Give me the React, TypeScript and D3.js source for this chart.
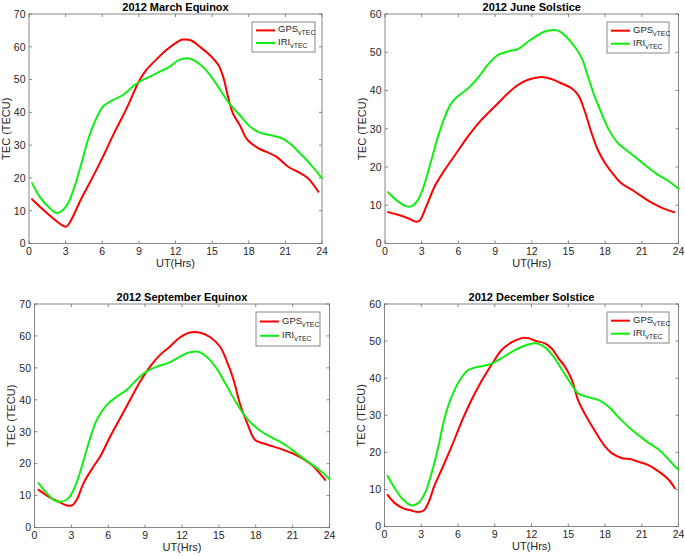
import React, { useRef, useEffect } from 'react';
import * as d3 from 'd3';

const xTicks = [0, 3, 6, 9, 12, 15, 18, 21, 24];
const titles = ['2012 March Equinox', '2012 June Solstice', '2012 September Equinox', '2012 December Solstice'];
const yMaxes = [70, 60, 70, 60];
const seriesNames = ['GPS', 'IRI'];

// [UT hour, TEC]
const marchGps: [number, number][] = [
  [0.25, 13.5], [0.87, 11.3], [1.97, 7.7], [2.7, 5.6], [3.05, 5.1], [3.4, 6.8], [4.3, 13.8], [5.1, 19.4],
  [6.06, 26.5], [7.0, 33.9], [7.97, 41], [9.06, 49.9], [9.6, 52.9], [10.4, 56], [11.25, 59],
  [12.07, 61.3], [12.6, 62.2], [13.3, 61.9], [14.0, 60], [14.8, 57.5], [15.5, 54.5], [15.9, 50.9], [16.3, 44.8],
  [16.7, 39.7], [17.25, 36.2], [17.9, 31.6], [18.76, 29.1], [19.4, 28.0], [20.26, 26.5], [21.2, 23.5],
  [22.0, 21.9], [22.85, 19.9], [23.7, 15.8],
];
const marchIri: [number, number][] = [
  [0.25, 18.4], [0.87, 14.3], [1.7, 10.8], [2.3, 9.3], [2.8, 10.3], [3.2, 12.3], [3.74, 17.4], [4.3, 24.5],
  [4.83, 31.6], [5.4, 37.2], [6.06, 41.8], [6.9, 43.8], [7.7, 45.3], [8.5, 47.9], [9.06, 49.4], [9.9, 50.9],
  [10.7, 52.4], [11.5, 53.9], [12.3, 56], [13.0, 56.5], [13.7, 55.5], [14.5, 52.9], [15.3, 48.9], [16.3, 43.3],
  [17.25, 39.2], [18.1, 35.7], [18.9, 33.8], [19.7, 33.1], [20.7, 32.1], [21.35, 30.6], [22.2, 27.5],
  [23.1, 24.0], [24.0, 19.9],
];
const juneGps: [number, number][] = [
  [0.25, 8.2], [1.06, 7.5], [1.88, 6.6], [2.56, 5.7], [2.84, 6.0], [3.38, 9.7], [4.06, 14.9], [4.88, 19.2],
  [5.83, 23.6], [6.79, 28], [7.88, 32.3], [8.97, 35.8], [10.06, 39.3], [10.9, 41.5], [11.7, 42.8], [12.8, 43.5],
  [13.6, 43], [14.4, 41.9], [15.25, 40.6], [15.8, 38.8], [16.3, 34.9], [16.9, 28.8], [17.4, 24.5], [18.0, 21],
  [18.5, 18.8], [19.3, 15.8], [20.2, 14.0], [21.0, 12.3], [21.8, 10.7], [22.75, 9.2], [23.65, 8.2],
];
const juneIri: [number, number][] = [
  [0.25, 13.4], [1.06, 11.0], [1.75, 9.7], [2.15, 9.7], [2.7, 11.4], [3.25, 15.8], [3.8, 21.9], [4.34, 28],
  [4.9, 33.2], [5.43, 36.7], [5.97, 38.5], [6.8, 40.6], [7.6, 43.3], [8.4, 46.7], [9.25, 49.3], [10.06, 50.2],
  [10.9, 50.9], [11.7, 52.8], [12.5, 54.5], [13.3, 55.6], [14.2, 55.6], [14.8, 54.1], [15.5, 51.5], [16.1, 48.4],
  [16.6, 43.6], [17.15, 38.4], [17.7, 34.1], [18.25, 30.1], [19.06, 26.2], [19.9, 24.0], [20.7, 22.0],
  [21.5, 19.9], [22.3, 18.0], [23.15, 16.4], [24, 14.3],
];
const septGps: [number, number][] = [
  [0.33, 11.8], [1.14, 9.7], [1.95, 8.1], [2.63, 6.9], [3.04, 6.9], [3.44, 8.7], [3.99, 13.9], [4.8, 19.1],
  [5.34, 22.2], [6.16, 28.5], [6.97, 34.2], [7.78, 40], [8.6, 45.7], [9.4, 50.4], [10.2, 54], [11.0, 56.6],
  [11.85, 59.6], [12.66, 61.1], [13.5, 61], [14.3, 59.6], [15.1, 56.6], [15.6, 52.5], [16.2, 46.2], [16.7, 38.9],
  [17.3, 32.7], [17.95, 27.4], [18.6, 26.4], [19.4, 25.4], [20.25, 24.3], [21.07, 23.1], [21.9, 21.4],
  [22.7, 19.1], [23.24, 16.8], [23.65, 14.9],
];
const septIri: [number, number][] = [
  [0.33, 13.9], [1.0, 10.7], [1.68, 8.4], [2.22, 8.1], [2.77, 9.2], [3.3, 12.8], [3.85, 19.1], [4.4, 26.4],
  [5.07, 33.7], [5.88, 38.4], [6.7, 41], [7.5, 43.1], [8.3, 46.2], [9.1, 48.8], [9.95, 50.4], [10.8, 51.4],
  [11.6, 53], [12.4, 54.6], [13.2, 55.1], [14.0, 53.5], [14.8, 49.9], [15.6, 44.6], [16.45, 38.9], [17.27, 34.2],
  [18.1, 31.1], [18.9, 29], [19.7, 27.4], [20.5, 25.6], [21.3, 23.3], [22.15, 20.9], [22.97, 18.6],
  [23.65, 16.5], [24, 15.1],
];
const decGps: [number, number][] = [
  [0.25, 8.5], [0.84, 6.3], [1.53, 4.9], [2.2, 4.3], [2.75, 3.9], [3.2, 4.3], [3.57, 6.3], [4.1, 11.2],
  [4.66, 15.3], [5.48, 21.6], [6.3, 28.3], [7.1, 34.1], [7.9, 39.1], [8.74, 43.6], [9.56, 47.6], [10.4, 49.7],
  [11.2, 50.8], [11.74, 50.8], [12.3, 50.1], [13.1, 49.4], [13.65, 48], [14.2, 45.4], [14.74, 43.1], [15.3, 39.5],
  [15.8, 34.1], [16.4, 30.1], [17.2, 25.6], [18.0, 21.6], [18.55, 19.8], [19.4, 18.4], [20.05, 18.2],
  [20.7, 17.5], [21.5, 16.6], [22.4, 14.8], [23.2, 12.6], [23.7, 10.3],
];
const decIri: [number, number][] = [
  [0.25, 13.7], [0.84, 10.3], [1.53, 7.2], [2.2, 5.7], [2.75, 6.3], [3.3, 9.0], [3.84, 14.4], [4.4, 21.6],
  [4.93, 29.6], [5.48, 35.0], [6.16, 39.5], [6.84, 42.2], [7.65, 43.1], [8.47, 43.6], [9.3, 44.9], [10.1, 46.5],
  [10.9, 48], [11.74, 49.1], [12.4, 49.4], [13.1, 48.3], [13.8, 45.8], [14.5, 42.2], [15.2, 38.6], [15.8, 35.9],
  [16.6, 34.9], [17.5, 34.1], [18.3, 32.3], [19.1, 29.5], [19.9, 26.9], [20.7, 24.7], [21.5, 22.7],
  [22.4, 20.7], [23.05, 18.6], [23.6, 16.6], [24, 15.3],
];

const panelData = [
  [marchGps, marchIri],
  [juneGps, juneIri],
  [septGps, septIri],
  [decGps, decIri],
];

const boxes = [
  { left: 29, right: 322, top: 14, bottom: 243.5 },
  { left: 385, right: 678.5, top: 14, bottom: 243.5 },
  { left: 34.5, right: 329.5, top: 304, bottom: 527.5 },
  { left: 384.5, right: 678.5, top: 304, bottom: 526.5 },
];
const legendBoxes = [
  { x: 252, y: 22, w: 63, h: 30 },
  { x: 607, y: 22, w: 62, h: 31 },
  { x: 256, y: 312, w: 64, h: 34 },
  { x: 607, y: 312, w: 62, h: 31 },
];

const colors = ['#ff0000', '#11ee11'];
const axisColor = '#262626';
const boxColor = '#6a6a6a';
const font = 'Liberation Sans, Arial, sans-serif';

export default function App() {
  const svgRef = useRef<SVGSVGElement>(null);

  useEffect(() => {
    if (!svgRef.current) return;
    const svg = d3.select(svgRef.current);
    svg.selectAll('*').remove();
    svg.append('rect').attr('width', 685).attr('height', 556).attr('fill', '#ffffff');

    boxes.forEach((b, i) => {
      const g = svg.append('g');
      const x = d3.scaleLinear().domain([0, 24]).range([b.left, b.right]);
      const y = d3.scaleLinear().domain([0, yMaxes[i]]).range([b.bottom, b.top]);
      const yTicks = d3.range(0, yMaxes[i] + 1, 10);

      // box
      g.append('rect')
        .attr('x', b.left).attr('y', b.top)
        .attr('width', b.right - b.left).attr('height', b.bottom - b.top)
        .attr('fill', 'none').attr('stroke', boxColor).attr('stroke-width', 0.8);

      // ticks inward on all four sides
      xTicks.forEach(t => {
        g.append('line').attr('x1', x(t)).attr('x2', x(t)).attr('y1', b.bottom).attr('y2', b.bottom - 3)
          .attr('stroke', boxColor).attr('stroke-width', 0.8);
        g.append('line').attr('x1', x(t)).attr('x2', x(t)).attr('y1', b.top).attr('y2', b.top + 3)
          .attr('stroke', boxColor).attr('stroke-width', 0.8);
        g.append('text').attr('x', x(t)).attr('y', b.bottom + 11.5)
          .attr('text-anchor', 'middle').attr('font-size', 10.5).attr('font-family', font)
          .attr('fill', axisColor).text(t);
      });
      yTicks.forEach(t => {
        g.append('line').attr('x1', b.left).attr('x2', b.left + 3).attr('y1', y(t)).attr('y2', y(t))
          .attr('stroke', boxColor).attr('stroke-width', 0.8);
        g.append('line').attr('x1', b.right).attr('x2', b.right - 3).attr('y1', y(t)).attr('y2', y(t))
          .attr('stroke', boxColor).attr('stroke-width', 0.8);
        g.append('text').attr('x', b.left - 3.5).attr('y', y(t) + 3.8)
          .attr('text-anchor', 'end').attr('font-size', 10.5).attr('font-family', font)
          .attr('fill', axisColor).text(t);
      });

      // labels
      g.append('text').attr('x', (b.left + b.right) / 2).attr('y', b.top - 3)
        .attr('text-anchor', 'middle').attr('font-size', 11).attr('font-weight', 'bold')
        .attr('font-family', font).attr('fill', '#000').text(titles[i]);
      g.append('text').attr('x', (b.left + b.right) / 2).attr('y', b.bottom + 23.5)
        .attr('text-anchor', 'middle').attr('font-size', 11).attr('font-family', font)
        .attr('fill', axisColor).text('UT(Hrs)');
      g.append('text')
        .attr('transform', `translate(${b.left - 19.5},${(b.top + b.bottom) / 2}) rotate(-90)`)
        .attr('text-anchor', 'middle').attr('font-size', 11).attr('font-family', font)
        .attr('fill', axisColor).text('TEC (TECU)');

      // lines
      const line = d3.line<[number, number]>()
        .x(d => x(d[0])).y(d => y(d[1]))
        .curve(d3.curveCatmullRom.alpha(0.5));
      panelData[i].forEach((s, k) => {
        g.append('path').datum(s).attr('d', line).attr('fill', 'none')
          .attr('stroke', colors[k]).attr('stroke-width', 2)
          .attr('stroke-linejoin', 'round').attr('stroke-linecap', 'round');
      });

      // legend
      const lb = legendBoxes[i];
      const lg = g.append('g');
      lg.append('rect').attr('x', lb.x).attr('y', lb.y).attr('width', lb.w).attr('height', lb.h)
        .attr('fill', '#fff').attr('stroke', boxColor).attr('stroke-width', 0.8);
      seriesNames.forEach((n, k) => {
        const ry = lb.y + lb.h * (k === 0 ? 0.28 : 0.7);
        lg.append('line').attr('x1', lb.x + 4).attr('x2', lb.x + 23).attr('y1', ry).attr('y2', ry)
          .attr('stroke', colors[k]).attr('stroke-width', 2);
        const t = lg.append('text').attr('x', lb.x + 26).attr('y', ry + 2)
          .attr('font-size', 9.5).attr('font-family', font).attr('fill', axisColor);
        t.append('tspan').text(n);
        t.append('tspan').attr('font-size', 7).attr('dy', 3).text('vTEC');
      });
    });
  }, []);

  return (
    <svg
      ref={svgRef}
      width={685}
      height={556}
      style={{ position: 'absolute', left: 0, top: 0, display: 'block' }}
    />
  );
}
